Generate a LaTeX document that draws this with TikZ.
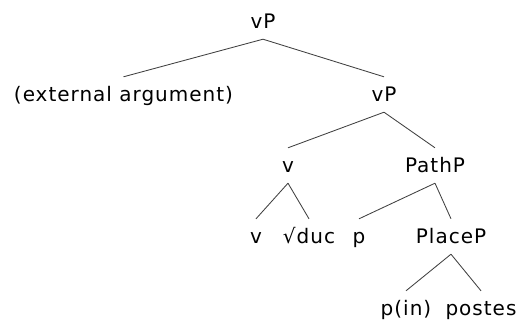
\documentclass[tikz,border=0pt]{standalone}
\usepackage{fontspec}
\setmainfont[LetterSpace=5]{DejaVu Sans}

\begin{document}
\begin{tikzpicture}[x=1pt, y=-1pt, font=\fontsize{20}{24}\selectfont,
  lbl/.style={anchor=base, text height=18pt, text depth=5pt, inner ysep=6pt, inner xsep=0pt},
  branch/.style={draw=black!75, line width=0.85pt}]
\useasboundingbox (0,0) rectangle (520,322);
% labels, placed on their baselines
\node[lbl] (vPtop) at (263,28) {vP};
\node[lbl] (ext) at (123.5,101) {(external argument)};
\node[lbl] (vPlow) at (384,101) {vP};
\node[lbl] (vhead) at (288,172) {v};
\node[lbl] (PathP) at (435,172) {PathP};
\node[lbl] (vleaf) at (256,243) {v};
\node[lbl] (root) at (309,243) {√duc};
\node[lbl] (plow) at (359,243) {p};
\node[lbl] (PlaceP) at (451,243) {PlaceP};
\node[lbl] (pin) at (406,315) {p(in)};
\node[lbl] (postes) at (481,315) {postes};
% branches
\draw[branch] (vPtop.south) -- (ext.north);
\draw[branch] (vPtop.south) -- (vPlow.north);
\draw[branch] (vPlow.south) -- (vhead.north);
\draw[branch] (vPlow.south) -- (PathP.north);
\draw[branch] (vhead.south) -- (vleaf.north);
\draw[branch] (vhead.south) -- (root.north);
\draw[branch] (PathP.south) -- (plow.north);
\draw[branch] (PathP.south) -- (PlaceP.north);
\draw[branch] (PlaceP.south) -- (pin.north);
\draw[branch] (PlaceP.south) -- (postes.north);
\end{tikzpicture}
\end{document}
